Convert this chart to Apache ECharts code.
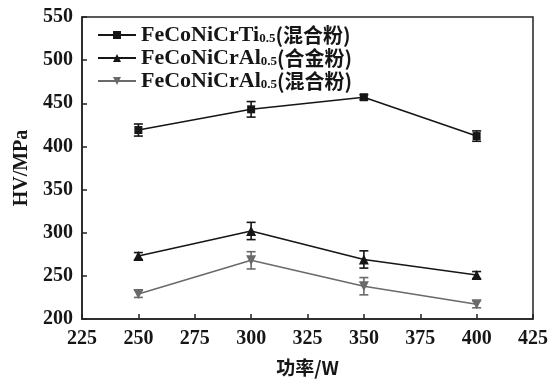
<!DOCTYPE html>
<html><head><meta charset="utf-8">
<script src="https://cdn.jsdelivr.net/npm/echarts@6/dist/echarts.min.js"></script>
<style>html,body{margin:0;padding:0;background:#fff}#c{width:551px;height:382px}</style>
</head><body><div id="c"></div>
<script>
const powers = [250, 300, 350, 400];
const tiMix = [419, 443, 457, 412];
const tiMixErr = [7, 9, 3, 6];
const alAlloy = [273, 302, 269, 251];
const alAlloyErr = [4, 10, 10, 4];
const alMix = [229, 268, 238, 217];
const alMixErr = [4, 10, 10, 4];
const xTicks = {min: 225, max: 425, interval: 25};
const yTicks = {min: 200, max: 550, interval: 50};
const names = ['FeCoNiCrTi0.5(混合粉)', 'FeCoNiCrAl0.5(合金粉)', 'FeCoNiCrAl0.5(混合粉)'];
const colors = ['#161616', '#161616', '#6a6a6a'];
const symbols = ['rect', 'triangle', 'path://M0,0 L10,0 L5,9 Z'];

const serif = '"Liberation Serif", "Times New Roman", serif';
const cjk = '"Noto Sans CJK SC", sans-serif';

function pts(vals) { return powers.map((p, i) => [p, vals[i]]); }
function errData(vals, errs) { return powers.map((p, i) => [p, vals[i] - errs[i], vals[i] + errs[i]]); }

function errSeries(vals, errs, color) {
  return {
    type: 'custom',
    data: errData(vals, errs),
    z: 3,
    renderItem: function (params, api) {
      const x = api.value(0);
      const lo = api.coord([x, api.value(1)]);
      const hi = api.coord([x, api.value(2)]);
      const w = 4.5;
      return {
        type: 'group',
        children: [
          {type: 'line', shape: {x1: lo[0], y1: lo[1], x2: hi[0], y2: hi[1]}, style: {stroke: color, lineWidth: 1.6}},
          {type: 'line', shape: {x1: lo[0] - w, y1: lo[1], x2: lo[0] + w, y2: lo[1]}, style: {stroke: color, lineWidth: 1.6}},
          {type: 'line', shape: {x1: hi[0] - w, y1: hi[1], x2: hi[0] + w, y2: hi[1]}, style: {stroke: color, lineWidth: 1.6}}
        ]
      };
    }
  };
}

function lineSeries(i, vals) {
  return {
    name: names[i], type: 'line', data: pts(vals),
    symbol: symbols[i], symbolSize: i === 0 ? 8 : 10,
    lineStyle: {color: colors[i], width: 1.6},
    itemStyle: {color: colors[i]},
    z: 4
  };
}

const chart = echarts.init(document.getElementById('c'), null, {renderer: 'canvas'});
chart.setOption({
  backgroundColor: '#fff',
  animation: false,
  grid: {left: 82, right: 16, top: 17, bottom: 63, show: true, borderColor: '#222', borderWidth: 1.5, backgroundColor: 'transparent'},
  legend: {
    data: names, orient: 'vertical', left: 97, top: 24, itemGap: 1, padding: 0,
    itemWidth: 38, itemHeight: 10,
    formatter: function (n) {
      const m = n.match(/^(FeCoNiCr\w\w)0\.5(.*)$/);
      return '{a|' + m[1] + '}{s|0.5}{b|' + m[2] + '}';
    },
    textStyle: {
      rich: {
        a: {fontFamily: serif, fontWeight: 'bold', fontSize: 22, color: '#161616', height: 22, verticalAlign: 'bottom'},
        s: {fontFamily: serif, fontWeight: 'bold', fontSize: 13, color: '#161616', height: 22, verticalAlign: 'bottom', padding: [0, 0, -4, 0]},
        b: {fontFamily: cjk, fontWeight: 'bold', fontSize: 20, color: '#161616', height: 22, verticalAlign: 'bottom'}
      }
    }
  },
  xAxis: {
    type: 'value', min: xTicks.min, max: xTicks.max, interval: xTicks.interval,
    name: '功率/W', nameLocation: 'middle', nameGap: 39,
    nameTextStyle: {fontFamily: cjk, fontWeight: 'bold', fontSize: 19, color: '#161616'},
    axisLine: {lineStyle: {color: '#222', width: 1.5}},
    axisTick: {inside: true, length: 5, lineStyle: {color: '#222', width: 1.5}},
    axisLabel: {fontFamily: serif, fontWeight: 'bold', fontSize: 20, color: '#161616', margin: 10},
    splitLine: {show: false}
  },
  yAxis: {
    type: 'value', min: yTicks.min, max: yTicks.max, interval: yTicks.interval,
    name: 'HV/MPa', nameLocation: 'middle', nameGap: 50,
    nameTextStyle: {fontFamily: serif, fontWeight: 'bold', fontSize: 20, color: '#161616'},
    axisLine: {lineStyle: {color: '#222', width: 1.5}},
    axisTick: {inside: true, length: 5, lineStyle: {color: '#222', width: 1.5}},
    axisLabel: {fontFamily: serif, fontWeight: 'bold', fontSize: 20, color: '#161616', margin: 9},
    splitLine: {show: false}
  },
  series: [
    errSeries(tiMix, tiMixErr, colors[0]),
    errSeries(alAlloy, alAlloyErr, colors[1]),
    errSeries(alMix, alMixErr, colors[2]),
    lineSeries(0, tiMix),
    lineSeries(1, alAlloy),
    lineSeries(2, alMix)
  ]
});
</script></body></html>
